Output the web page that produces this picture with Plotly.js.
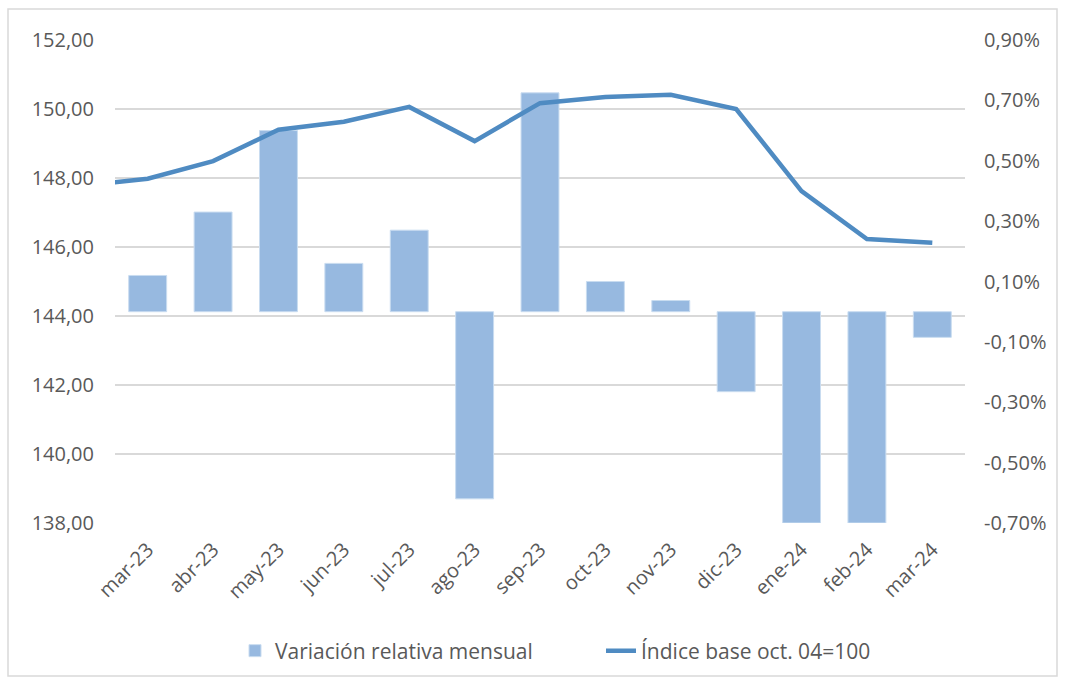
<!DOCTYPE html>
<html>
<head>
<meta charset="utf-8">
<script src="https://cdn.plot.ly/plotly-3.0.1.min.js"></script>
<style>html,body{margin:0;padding:0;background:#fff;}#chart{width:1065px;height:684px;}</style>
</head>
<body>
<div id="chart"></div>
<script>
// Categories
var months = ["mar-23","abr-23","may-23","jun-23","jul-23","ago-23","sep-23","oct-23","nov-23","dic-23","ene-24","feb-24","mar-24"];
// Monthly relative variation (%), right axis
var variacion = [0.12, 0.33, 0.60, 0.16, 0.27, -0.62, 0.725, 0.10, 0.037, -0.265, -0.70, -0.70, -0.085];
// Index base oct. 04 = 100, left axis
var indice = [147.98, 148.49, 149.40, 149.63, 150.06, 149.07, 150.17, 150.35, 150.41, 150.00, 147.62, 146.23, 146.12];
// Previous month (feb-23) value, partly visible at the left edge
var indicePrev = 147.78;
// Tick values
var pctTicks = [-0.7, -0.5, -0.3, -0.1, 0.1, 0.3, 0.5, 0.7, 0.9];
var idxTicks = [138, 140, 142, 144, 146, 148, 150, 152];

function fmt(v, suffix) { return v.toFixed(2).replace(".", ",") + (suffix || ""); }

var xi = months.map(function(m, i){ return i; });
var lineX = [-1].concat(xi);
var lineY = [indicePrev].concat(indice);

var font = "'Open Sans', 'Liberation Sans', sans-serif";
var grey = "#595959";
var fs = 20;

var traces = [
  {
    type: "bar", name: "Variación relativa mensual",
    x: xi, y: variacion, yaxis: "y",
    marker: {color: "#97b9e0", line: {color: "#c9dcf0", width: 1}},
    hoverinfo: "x+y"
  },
  {
    type: "scatter", mode: "lines", name: "Índice base oct. 04=100",
    x: lineX, y: lineY, yaxis: "y2",
    line: {color: "#4f8bc2", width: 4.5}
  }
];

var layout = {
  width: 1065, height: 684,
  margin: {l: 115, r: 100, t: 40, b: 161},
  paper_bgcolor: "#fff", plot_bgcolor: "#fff",
  font: {family: font, size: fs, color: grey},
  showlegend: true,
  legend: {orientation: "h", x: (235-115)/850, xanchor: "left", y: -0.265, yanchor: "middle",
           entrywidth: 321, entrywidthmode: "pixels",
           font: {family: font, size: 21, color: grey}, traceorder: "normal"},
  bargap: 0.42,
  xaxis: {
    type: "linear", range: [-0.5, 12.5],
    tickmode: "array", tickvals: xi, ticktext: months, tickangle: -45,
    showgrid: false, zeroline: false, showline: false, ticks: "",
    ticklabelstandoff: 10,
    tickfont: {family: font, size: fs, color: grey}
  },
  // bars: right percentage axis
  yaxis: {
    side: "right",
    range: [-0.7, 0.9],
    tickmode: "array", tickvals: pctTicks, ticktext: pctTicks.map(function(v){ return fmt(v, "%"); }),
    showgrid: false, zeroline: false, showline: false, ticks: "",
    ticklabelstandoff: 18,
    tickfont: {family: font, size: fs, color: grey}
  },
  // line: left index axis (drawn on top)
  yaxis2: {
    overlaying: "y", side: "left",
    range: [138, 152],
    tickmode: "array", tickvals: idxTicks, ticktext: idxTicks.map(function(v){ return fmt(v); }),
    showgrid: true, gridcolor: "#d9d9d9", gridwidth: 1.5,
    zeroline: false, showline: false, ticks: "",
    ticklabelstandoff: 20,
    tickfont: {family: font, size: fs, color: grey}
  },
  shapes: [
    {type: "rect", xref: "paper", yref: "paper",
     x0: (8-115)/850, x1: (1057-115)/850, y0: (523-676)/483, y1: (523-9)/483,
     line: {color: "#d9d9d9", width: 1.5}, fillcolor: "rgba(0,0,0,0)", layer: "below"}
  ]
};

Plotly.newPlot("chart", traces, layout, {displayModeBar: false, staticPlot: true});
</script>
</body>
</html>
